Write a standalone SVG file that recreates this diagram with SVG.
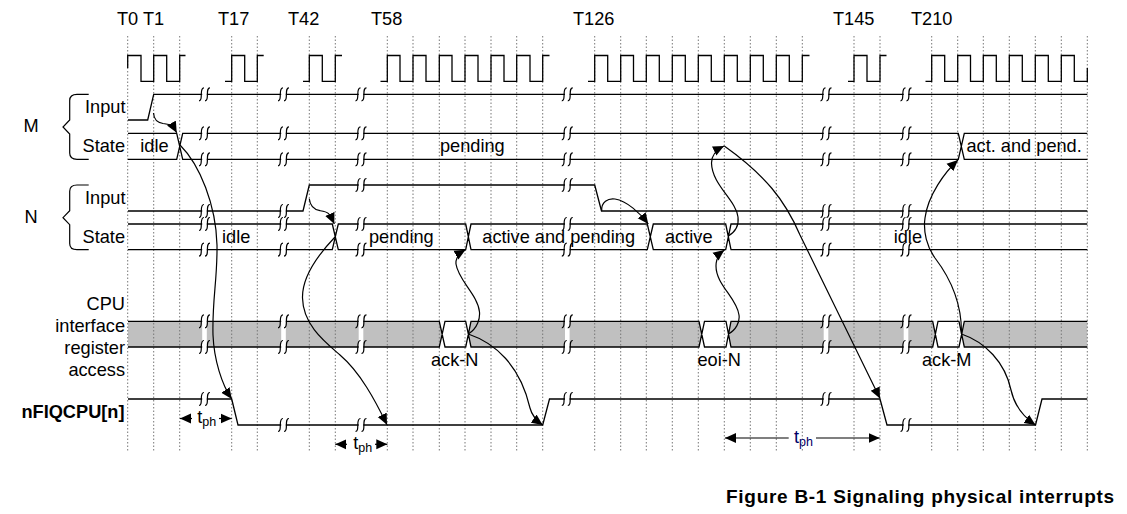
<svg xmlns="http://www.w3.org/2000/svg" xmlns:xlink="http://www.w3.org/1999/xlink" width="1127" height="514" viewBox="0 0 1127 514">
<style>
text{font-family:"Liberation Sans",Arial,sans-serif;font-size:18.2px;fill:#000}
.e{text-anchor:end}
.b{font-weight:700}
.s{font-size:12.5px}
.w{fill:none;stroke:#000;stroke-width:1.3}
.g{fill:none;stroke:#777;stroke-width:1;stroke-dasharray:1.5 2}
.c{fill:none;stroke:#000;stroke-width:1.2}
.a{marker-end:url(#ah)}
</style>
<defs>
<marker id="ah" markerUnits="userSpaceOnUse" markerWidth="12" markerHeight="11" viewBox="0 0 12 11" refX="11" refY="5.5" orient="auto"><path d="M0 0.5L11 5.5L0 10.500Z" fill="#000"/></marker>
<g id="brk"><rect x="-2.300" y="-2.500" width="4.600" height="5" fill="#fff"/><path class="c" d="M-0.500 -6.500C-3 -6.500 -3.200 -3.500 -3.200 0C-3.200 3.500 -3.400 6.500 -5.500 6.500M5.500 -6.500C3 -6.500 2.900 -3.500 2.900 0C2.900 3.500 2.700 6.500 0.500 6.500"/></g>
<g id="gap"><rect x="-2.300" y="321" width="4.600" height="26" fill="#fff"/></g>
</defs>
<rect width="1127" height="514" fill="#fff"/>

<rect x="128" y="321.300" width="959.300" height="25.700" fill="#c0c0c0"/>
<g id="band-gaps"><use xlink:href="#gap" x="204.500"/><use xlink:href="#gap" x="283.500"/><use xlink:href="#gap" x="361"/><use xlink:href="#gap" x="567.300"/><use xlink:href="#gap" x="826"/><use xlink:href="#gap" x="906"/></g>
<path fill="#fff" d="M439.300 321.300H471L468.200 334L471 347H439.300L442.150 334ZM699 321.300H731L728.300 334L731 347H699L701.800 334ZM932.700 321.300H964.300L961.500 334L964.300 347H932.700L935.400 334Z"/>

<g id="grid" class="g">
<path d="M127.700 36V451M153.700 36V451M179.700 36V451M231.700 36V451M257.300 36V451M309.300 36V451M335.300 36V451M387.300 36V451M413 36V451M439.300 36V451M465 36V451M491 36V451M516.700 36V451M542.700 36V451M594.700 36V451M620.700 36V451M646.300 36V451M672.300 36V451M698.300 36V451M724.300 36V451M750.300 36V451M776.300 36V451M802.300 36V451M854 36V451M880 36V451M931.700 36V451M957.700 36V451M983.300 36V451M1009.300 36V451M1035.300 36V451M1061.300 36V451M1087.300 36V451"/>
</g>

<g id="ticks">
<text x="117" y="25">T0 T1</text><text x="218" y="25">T17</text><text x="288" y="25">T42</text><text x="371" y="25">T58</text><text x="573" y="25">T126</text><text x="833" y="25">T145</text><text x="911" y="25">T210</text>
</g>

<g id="clock">
<path class="w" d="M127.700 68V55.500H141V81.300H153.700V55.500H166.700V81.300H179.700V55.500H185.500"/>
<path class="w" d="M225 81.300H231.700V55.500H244.700V81.300H257.300V55.500H263.700"/>
<path class="w" d="M303 81.300H309.300V55.500H322.300V81.300H335.300V55.500H342"/>
<path class="w" d="M380.500 81.300H387.300V55.500H400V81.300H413V55.500H426V81.300H439.300V55.500H452V81.300H465V55.500H478V81.300H491V55.500H504V81.300H516.700V55.500H530V81.300H542.700V55.500H549.500"/>
<path class="w" d="M588 81.300H594.700V55.500H607.700V81.300H620.700V55.500H633.500V81.300H646.300V55.500H659.300V81.300H672.300V55.500H685.300V81.300H698.300V55.500H711.300V81.300H724.300V55.500H737.300V81.300H750.300V55.500H763.300V81.300H776.300V55.500H789.300V81.300H802.300V55.500H809.500"/>
<path class="w" d="M848 81.300H854V55.500H867V81.300H880V55.500H886.500"/>
<path class="w" d="M925.500 81.300H931.700V55.500H944.700V81.300H957.700V55.500H970.500V81.300H983.300V55.500H996.300V81.300H1009.300V55.500H1022.300V81.300H1035.300V55.500H1048.300V81.300H1061.300V55.500H1074.300V81.300H1087.300V68"/>
</g>

<g id="m-group">
<text x="23.500" y="132">M</text>
<path class="c" d="M88.700 94.300H77Q69.700 94.300 69.700 100.500V120L63 127L69.700 134V153Q69.700 159.300 77 159.300H88.700"/>
</g>
<g id="m-input">
<text class="e" x="125.500" y="113.300">Input</text>
<path class="w" d="M128 120H147.700L153.700 94.300H1087.300"/>
<use xlink:href="#brk" x="204.500" y="94.300"/><use xlink:href="#brk" x="283.500" y="94.300"/><use xlink:href="#brk" x="361" y="94.300"/><use xlink:href="#brk" x="567.300" y="94.300"/><use xlink:href="#brk" x="826" y="94.300"/><use xlink:href="#brk" x="906" y="94.300"/>
</g>
<g id="m-state">
<text class="e" x="125" y="151.700">State</text>
<path class="w" d="M128 133.300H176.700L182.700 159.300H958.300L964.300 133.300H1087.300M128 159.300H176.700L182.700 133.300H958.300L964.300 159.300H1087.300"/>
<use xlink:href="#brk" x="204.500" y="133.300"/><use xlink:href="#brk" x="283.500" y="133.300"/><use xlink:href="#brk" x="361" y="133.300"/><use xlink:href="#brk" x="567.300" y="133.300"/><use xlink:href="#brk" x="826" y="133.300"/><use xlink:href="#brk" x="906" y="133.300"/>
<use xlink:href="#brk" x="204.500" y="159.300"/><use xlink:href="#brk" x="283.500" y="159.300"/><use xlink:href="#brk" x="361" y="159.300"/><use xlink:href="#brk" x="567.300" y="159.300"/><use xlink:href="#brk" x="826" y="159.300"/><use xlink:href="#brk" x="906" y="159.300"/>
<text x="140.300" y="151.700">idle</text><text x="440" y="151.700">pending</text><text x="966.500" y="151.700">act. and pend.</text>
</g>

<g id="n-group">
<text x="24.500" y="222.700">N</text>
<path class="c" d="M88.700 185H77Q69.700 185 69.700 191.200V210.700L63 217.700L69.700 224.700V243.500Q69.700 249.700 77 249.700H88.700"/>
</g>
<g id="n-input">
<text class="e" x="125.500" y="204">Input</text>
<path class="w" d="M128 211H303L309.300 185H594.700L601.500 211H1087.300"/>
<use xlink:href="#brk" x="204.500" y="211"/><use xlink:href="#brk" x="283.500" y="211"/><use xlink:href="#brk" x="361" y="185"/><use xlink:href="#brk" x="567.300" y="185"/><use xlink:href="#brk" x="826" y="211"/><use xlink:href="#brk" x="906" y="211"/>
</g>
<g id="n-state">
<text class="e" x="125" y="242.700">State</text>
<path class="w" d="M128 224H332.300L338.300 249.700H465.700L471 224H647.300L653.300 249.700H725.700L731 224H1087.300M128 249.700H332.300L338.300 224H465.700L471 249.700H647.300L653.300 224H725.700L731 249.700H1087.300"/>
<use xlink:href="#brk" x="204.500" y="224"/><use xlink:href="#brk" x="283.500" y="224"/><use xlink:href="#brk" x="361" y="224"/><use xlink:href="#brk" x="567.300" y="224"/><use xlink:href="#brk" x="826" y="224"/><use xlink:href="#brk" x="906" y="224"/>
<use xlink:href="#brk" x="204.500" y="249.700"/><use xlink:href="#brk" x="283.500" y="249.700"/><use xlink:href="#brk" x="361" y="249.700"/><use xlink:href="#brk" x="567.300" y="249.700"/><use xlink:href="#brk" x="826" y="249.700"/><use xlink:href="#brk" x="906" y="249.700"/>
<text x="222" y="242.700">idle</text><text x="369" y="242.700">pending</text><text x="482.300" y="242.700">active and pending</text><text x="665" y="242.700">active</text><text x="893.700" y="242.700">idle</text>
</g>

<g id="cpu-access">
<text class="e" x="125" y="310">CPU</text><text class="e" x="125" y="332">interface</text><text class="e" x="125" y="354">register</text><text class="e" x="125" y="376">access</text>
<path class="w" d="M128 321.300H439.300L445 347H465.700L471 321.300H699L704.500 347H726L731 321.300H932.700L938 347H959L964.300 321.300H1087.300M128 347H439.300L445 321.300H465.700L471 347H699L704.500 321.300H726L731 347H932.700L938 321.300H959L964.300 347H1087.300"/>
<use xlink:href="#brk" x="204.500" y="321.300"/><use xlink:href="#brk" x="283.500" y="321.300"/><use xlink:href="#brk" x="361" y="321.300"/><use xlink:href="#brk" x="567.300" y="321.300"/><use xlink:href="#brk" x="826" y="321.300"/><use xlink:href="#brk" x="906" y="321.300"/>
<use xlink:href="#brk" x="204.500" y="347"/><use xlink:href="#brk" x="283.500" y="347"/><use xlink:href="#brk" x="361" y="347"/><use xlink:href="#brk" x="567.300" y="347"/><use xlink:href="#brk" x="826" y="347"/><use xlink:href="#brk" x="906" y="347"/>
<text x="431" y="366">ack-N</text><text x="697.500" y="366">eoi-N</text><text x="922" y="366">ack-M</text>
</g>

<g id="nfiqcpu">
<text class="e b" x="124.500" y="418.300">nFIQCPU[n]</text>
<path class="w" d="M128 399H231.700L238 425H542.700L549.500 399H880L887 425H1035.500L1042 399H1087.300"/>
<use xlink:href="#brk" x="204.500" y="399"/><use xlink:href="#brk" x="283.500" y="425"/><use xlink:href="#brk" x="361" y="425"/><use xlink:href="#brk" x="567.300" y="399"/><use xlink:href="#brk" x="826" y="399"/><use xlink:href="#brk" x="906" y="425"/>
</g>

<g id="connectors">
<path class="c a" d="M153.500 113C154 120 157 122.500 163 123.500C170 124.500 172 124 176.700 132.700"/>
<path class="c a" d="M180 145C200 165 216 205 217 245C217.500 280 212 300 213 335C214 360 222 385 231.700 399"/>
<path class="c a" d="M309.300 198.700C310 206 314 209.500 320 210.700C328 212 329 212 334.300 224"/>
<path class="c a" d="M335 237C315 258 302 278 302.500 298C303 325 325 342 340 355C360 372 375 400 387 424.700"/>
<path class="c a" d="M468.300 334C478 328 480 318 479.500 312C478 295 458 280 456 264C455.500 258 458 254 465.500 249.700"/>
<path class="c a" d="M468.300 334C495 343 520 365 530 408C532 416 537 421 542.700 425"/>
<path class="c a" d="M601.700 211C601 202 608 198 615 199C627 201 640 213 648.300 224"/>
<path class="c a" d="M728.300 236C735 232 739 225 738 217C736 200 712 185 711.500 163C711.500 155 716 150 724 146"/>
<path class="c a" d="M724.300 146C765 175 785 200 800 235L880 398.500"/>
<path class="c a" d="M728.300 334C736 330 740 322 739 315C737 298 716 285 716 266C716 260 719 254 724.300 250"/>
<path class="c a" d="M961.500 334C962 300 948 275 935 258C927 247 923 232 925 218C928 195 945 172 958 160"/>
<path class="c a" d="M961.500 334C985 342 1005 362 1011 390C1015 408 1025 418 1035.500 425"/>
</g>

<g id="timing">
<path class="c a" d="M192 418.500H180"/><path class="c a" d="M219 418.500H231.700"/>
<text x="197.300" y="423.300">t<tspan class="s" dy="2.500">ph</tspan></text>
<path class="c a" d="M347 444.300H335.300"/><path class="c a" d="M375 444.300H387.300"/>
<text x="353.300" y="449.300">t<tspan class="s" dy="2.500">ph</tspan></text>
<path class="c a" d="M788.700 438H725"/><path class="c a" d="M816 438H879.700"/>
<text x="794" y="443.300" style="fill:#000066">t<tspan class="s" dy="2.500" style="fill:#000066">ph</tspan></text>
</g>

<text id="caption" class="b" x="726" y="503" style="font-size:19px;letter-spacing:0.72px">Figure B-1 Signaling physical interrupts</text>
</svg>
